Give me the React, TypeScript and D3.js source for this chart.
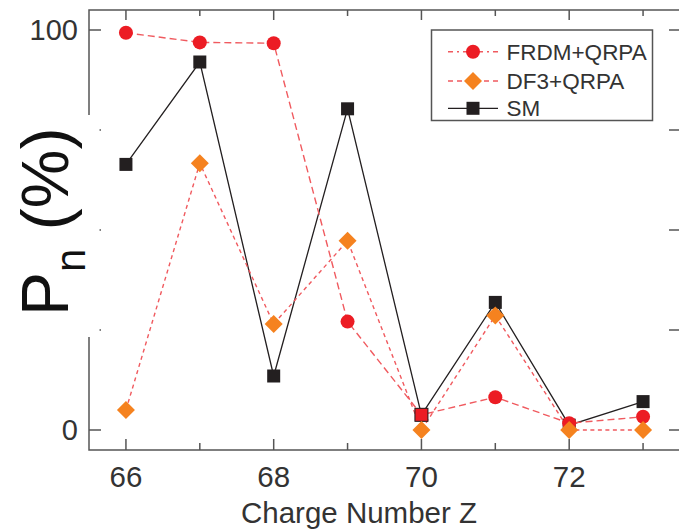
import React from "react";
import * as d3 from "d3";

// Charge number Z
const charges = [66, 67, 68, 69, 70, 71, 72, 73];
// Neutron emission probability P_n (%)
const frdmQrpa = [99.3, 96.9, 96.7, 27.1, 3.8, 8.2, 1.7, 3.3];
const df3Qrpa = [5.0, 66.7, 26.5, 47.3, 0.0, 28.6, 0.0, 0.0];
const shellModel = [66.4, 92.0, 13.5, 80.3, 3.8, 31.9, 1.2, 7.1];

const yTickValues = [0, 25, 50, 75, 100];
const yTickLabels = ["0", "", "", "", "100"];
const xLabelTicks = [66, 68, 70, 72];

const legendNames = ["FRDM+QRPA", "DF3+QRPA", "SM"];

const W = 679;
const H = 532;
const left = 89;
const right = 680;
const top = 10;
const bottom = 450;

const FONT = "'Liberation Sans', Arial, Helvetica, sans-serif";
const AXIS = "#555";
const TEXT = "#333";
const RED = "#ec1c24";
const RED_LINE = "#f05a5f";
const ORANGE = "#f5821f";
const BLACK = "#231f20";

const x = d3.scaleLinear().domain([65.5, 73.5]).range([left, right]);
const y = d3.scaleLinear().domain([-5, 105]).range([bottom, top]);

const lineOf = (vals: number[]) =>
  d3
    .line<number>()
    .x((_, i) => x(charges[i]))
    .y((v) => y(v))(vals) as string;

const diamond = (cx: number, cy: number, r = 9) =>
  `M${cx},${cy - r}L${cx + r},${cy}L${cx},${cy + r}L${cx - r},${cy}Z`;

export default function App() {
  const majorX = charges.filter((c) => c % 2 === 0);
  const minorX = charges.filter((c) => c % 2 === 1);

  return (
    <svg
      width={W}
      height={H}
      viewBox={`0 0 ${W} ${H}`}
      style={{ position: "absolute", left: 0, top: 0, background: "#fff" }}
      fontFamily={FONT}
    >
      {/* frame */}
      <rect
        x={left}
        y={top}
        width={right - left}
        height={bottom - top}
        fill="none"
        stroke={AXIS}
        strokeWidth={1.5}
      />
      {/* x ticks, bottom and top, pointing inward */}
      {majorX.map((c) => (
        <g key={`mx${c}`} stroke={AXIS} strokeWidth={1.5}>
          <line x1={x(c)} x2={x(c)} y1={bottom} y2={bottom - 11} />
          <line x1={x(c)} x2={x(c)} y1={top} y2={top + 10} />
        </g>
      ))}
      {minorX.map((c) => (
        <g key={`nx${c}`} stroke={AXIS} strokeWidth={1.5}>
          <line x1={x(c)} x2={x(c)} y1={bottom} y2={bottom - 7} />
          <line x1={x(c)} x2={x(c)} y1={top} y2={top + 6} />
        </g>
      ))}
      {/* y ticks, left and right */}
      {yTickValues.map((v) => (
        <g key={`yt${v}`} stroke={AXIS} strokeWidth={1.5}>
          <line x1={left} x2={left + 12} y1={y(v)} y2={y(v)} />
          <line x1={right} x2={right - 11} y1={y(v)} y2={y(v)} />
        </g>
      ))}
      {yTickValues.map((v, i) =>
        yTickLabels[i] ? (
          <text
            key={`yl${v}`}
            x={78}
            y={y(v)}
            dy="0.36em"
            textAnchor="end"
            fontSize={29}
            fill={TEXT}
          >
            {yTickLabels[i]}
          </text>
        ) : null
      )}
      {xLabelTicks.map((c) => (
        <text
          key={`xl${c}`}
          x={x(c)}
          y={487}
          textAnchor="middle"
          fontSize={29.5}
          fill={TEXT}
        >
          {c}
        </text>
      ))}
      <text x={359} y={523} textAnchor="middle" fontSize={29.5} fill={TEXT}>
        Charge Number Z
      </text>

      {/* y-axis title on a white plate */}
      <rect x={0} y={115} width={99.5} height={222} fill="#fff" />
      <text
        transform="translate(68,316) rotate(-90)"
        fontSize={66}
        fill="#111"
      >
        P
        <tspan fontSize={42} dy={17}>
          n
        </tspan>
        <tspan fontSize={66} dy={-17}>
          {"\u00A0(%)"}
        </tspan>
      </text>

      {/* series lines */}
      <path d={lineOf(shellModel)} fill="none" stroke={BLACK} strokeWidth={1.3} />
      <path
        d={lineOf(frdmQrpa)}
        fill="none"
        stroke={RED_LINE}
        strokeWidth={1.4}
        strokeDasharray="7,4"
      />
      <path
        d={lineOf(df3Qrpa)}
        fill="none"
        stroke={RED_LINE}
        strokeWidth={1.4}
        strokeDasharray="4,3.5"
      />

      {/* markers */}
      {shellModel.map((v, i) => (
        <rect
          key={`sm${i}`}
          x={x(charges[i]) - 6.5}
          y={y(v) - 6.5}
          width={13}
          height={13}
          fill={BLACK}
        />
      ))}
      {frdmQrpa.map((v, i) =>
        Math.abs(v - shellModel[i]) < 0.5 ? (
          <rect
            key={`fr${i}`}
            x={x(charges[i]) - 6.5}
            y={y(v) - 6.5}
            width={13}
            height={13}
            fill={RED}
            stroke={BLACK}
            strokeWidth={1}
          />
        ) : (
          <circle key={`fr${i}`} cx={x(charges[i])} cy={y(v)} r={7} fill={RED} />
        )
      )}
      {df3Qrpa.map((v, i) => (
        <path key={`df${i}`} d={diamond(x(charges[i]), y(v))} fill={ORANGE} />
      ))}

      {/* legend */}
      <g>
        <rect
          x={431.5}
          y={30}
          width={221}
          height={90.5}
          fill="#fff"
          stroke={AXIS}
          strokeWidth={1.5}
        />
        {legendNames.map((name, i) => {
          const ly = [51.7, 81, 108.3][i];
          const cx = 473;
          return (
            <g key={name}>
              {i === 0 && (
                <>
                  <line
                    x1={448}
                    x2={498}
                    y1={ly}
                    y2={ly}
                    stroke={RED_LINE}
                    strokeWidth={1.4}
                    strokeDasharray="5,4,2,4"
                  />
                  <circle cx={cx} cy={ly} r={7} fill={RED} />
                </>
              )}
              {i === 1 && (
                <>
                  <line
                    x1={448}
                    x2={498}
                    y1={ly}
                    y2={ly}
                    stroke={RED_LINE}
                    strokeWidth={1.4}
                    strokeDasharray="5,4"
                  />
                  <path d={diamond(cx, ly, 9)} fill={ORANGE} />
                </>
              )}
              {i === 2 && (
                <>
                  <line x1={448} x2={498} y1={ly} y2={ly} stroke={BLACK} strokeWidth={1.3} />
                  <rect x={cx - 6.5} y={ly - 6.5} width={13} height={13} fill={BLACK} />
                </>
              )}
              <text x={506.5} y={ly} dy="0.36em" fontSize={22.5} fill={TEXT}>
                {name}
              </text>
            </g>
          );
        })}
      </g>
    </svg>
  );
}
